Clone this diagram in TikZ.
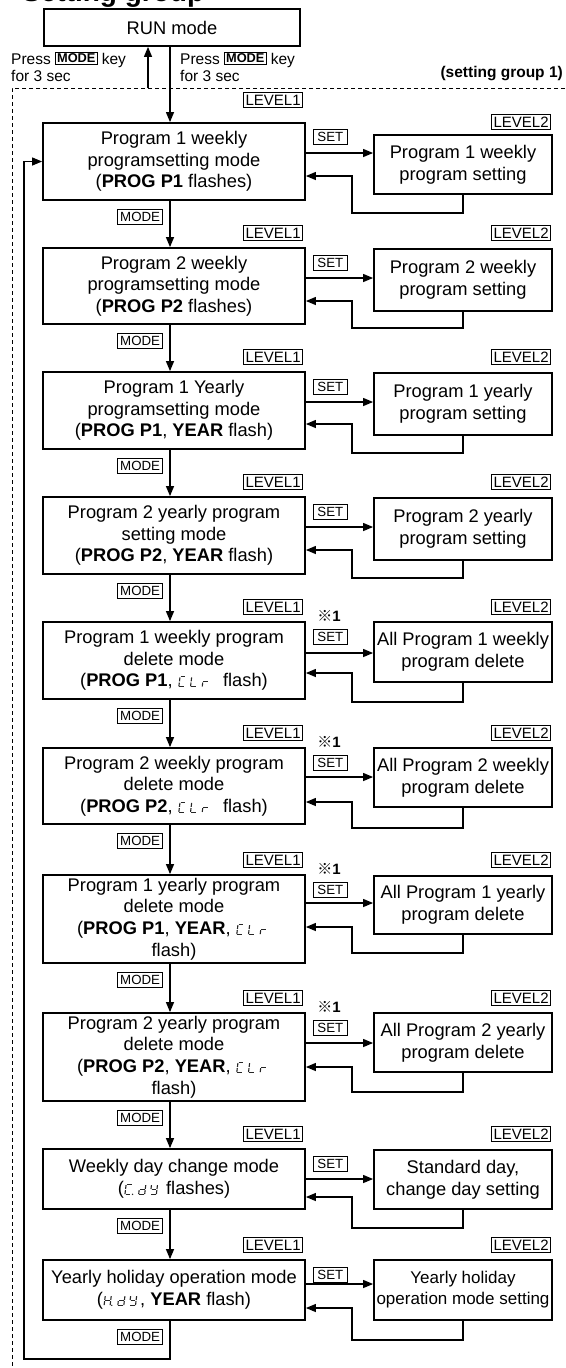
\documentclass[tikz,border=0pt]{standalone}
\usepackage{fontspec}
\setmainfont{Liberation Sans}
\newfontfamily\cjk{Noto Sans CJK JP}
\usetikzlibrary{arrows.meta,calc}

% seven-segment glyph pieces
\newcommand{\sgA}{\draw (1.6,10)--(6.4,10);}
\newcommand{\sgB}{\draw (7,9.5)--(7,5.6);}
\newcommand{\sgC}{\draw (7,4.4)--(7,0.5);}
\newcommand{\sgD}{\draw (1.6,0)--(6.4,0);}
\newcommand{\sgE}{\draw (1,0.5)--(1,4.4);}
\newcommand{\sgF}{\draw (1,5.6)--(1,9.5);}
\newcommand{\sgG}{\draw (1.6,5)--(6.4,5);}
\newcommand{\sgP}{\fill (8.6,0.3) circle (0.8);}
\newcommand{\sgdig}[1]{\tikz[baseline=0pt,x=1pt,y=1pt,line width=1.1pt,line cap=butt,xslant=0.12,black!85]{\path (0,0) rectangle (10.5,10); #1}}
\newcommand{\sgdigp}[1]{\tikz[baseline=0pt,x=1pt,y=1pt,line width=1.1pt,line cap=butt,xslant=0.12,black!85]{\path (0,0) rectangle (12.5,10); #1}}
\newcommand{\CLr}{\sgdig{\sgA\sgD\sgE\sgF}\sgdig{\sgD\sgE\sgF}\sgdig{\sgE\sgG}}
\newcommand{\CdY}{\sgdigp{\sgA\sgD\sgE\sgF\sgP}\sgdig{\sgB\sgC\sgD\sgE\sgG}\sgdig{\sgB\sgC\sgD\sgF\sgG}}
\newcommand{\HdY}{\sgdigp{\sgB\sgC\sgE\sgF\sgG\sgP}\sgdig{\sgB\sgC\sgD\sgE\sgG}\sgdig{\sgB\sgC\sgD\sgF\sgG}}
\newcommand{\keyb}[1]{\raisebox{1.5pt}{\setlength{\fboxsep}{1.2pt}\setlength{\fboxrule}{0.8pt}\fbox{\fontsize{12.8}{13}\selectfont\bfseries #1}}}

\tikzset{
 mainbox/.style={draw, line width=1.8pt, minimum width=262pt, inner sep=0pt, align=center, font=\fontsize{18.3}{21.7}\selectfont},
 sidebox/.style={draw, line width=1.8pt, minimum width=178pt, inner sep=0pt, align=center, font=\fontsize{18.3}{21.7}\selectfont},
 lvl/.style={draw, line width=0.8pt, inner xsep=2pt, inner ysep=2.2pt, font=\fontsize{15}{15}\selectfont},
 modelab/.style={draw, line width=0.8pt, inner xsep=2.5pt, inner ysep=2.6pt, font=\fontsize{13.3}{13.3}\selectfont},
 setlab/.style={draw, line width=0.8pt, minimum width=34pt, inner xsep=1pt, inner ysep=3pt, font=\fontsize{13.3}{13.3}\selectfont},
 notelab/.style={font=\fontsize{15}{15}\selectfont},
 txt/.style={font=\fontsize{15.5}{17}\selectfont},
 conn/.style={line width=1.2pt},
 arr/.style={conn, -{Triangle[length=10pt,width=8pt]}},
 bound/.style={line width=1pt, dash pattern=on 4pt off 3pt},
}

\begin{document}
\begin{tikzpicture}[x=1pt,y=-1pt]
\useasboundingbox (0,0) rectangle (565,1368);

% clipped heading at the very top
\begin{scope}
\clip (0,0) rectangle (565,1368);
\node[anchor=base west, inner sep=0pt, font=\bfseries\fontsize{28}{28}\selectfont] (head) at (22,1) {Setting group};
\end{scope}

% run mode and entry texts
\node[draw, line width=1.8pt, minimum width=256pt, minimum height=37pt, inner sep=0pt, font=\fontsize{18.3}{21.7}\selectfont] (run) at (172,27.5) {RUN mode};
\node[txt, anchor=base west, inner sep=0pt] (pl1) at (11,64) {Press \keyb{MODE} key};
\node[txt, anchor=base west, inner sep=0pt] (pl2) at (11,81) {for 3 sec};
\node[txt, anchor=base west, inner sep=0pt] (pr1) at (180,64) {Press \keyb{MODE} key};
\node[txt, anchor=base west, inner sep=0pt] (pr2) at (180,81) {for 3 sec};
\node[anchor=base east, inner sep=0pt, font=\bfseries\fontsize{15.5}{16}\selectfont] (sg) at (563,77) {(setting group 1)};

% boundary of setting group 1
\draw[bound] (565,88) -- (12,88) -- (12,1368);

% main column boxes
\node[mainbox, minimum height=77pt] (m1) at (174,161.5) {Program 1 weekly\\programsetting mode\\(\textbf{PROG P1} flashes)};
\node[mainbox, minimum height=76pt] (m2) at (174,286) {Program 2 weekly\\programsetting mode\\(\textbf{PROG P2} flashes)};
\node[mainbox, minimum height=77pt] (m3) at (174,410.5) {Program 1 Yearly\\programsetting mode\\(\textbf{PROG P1}, \textbf{YEAR} flash)};
\node[mainbox, minimum height=77pt] (m4) at (174,535.5) {Program 2 yearly program\\setting mode\\(\textbf{PROG P2}, \textbf{YEAR} flash)};
\node[mainbox, minimum height=77pt] (m5) at (174,660.5) {Program 1 weekly program\\delete mode\\(\textbf{PROG P1}, \CLr\ \ flash)};
\node[mainbox, minimum height=76pt] (m6) at (174,786) {Program 2 weekly program\\delete mode\\(\textbf{PROG P2}, \CLr\ \ flash)};
\node[mainbox, minimum height=88pt] (m7) at (174,919) {Program 1 yearly program\\delete mode\\(\textbf{PROG P1}, \textbf{YEAR}, \CLr\\flash)};
\node[mainbox, minimum height=88pt] (m8) at (174,1057) {Program 2 yearly program\\delete mode\\(\textbf{PROG P2}, \textbf{YEAR}, \CLr\\flash)};
\node[mainbox, minimum height=60pt] (m9) at (174,1179) {Weekly day change mode\\(\CdY\ flashes)};
\node[mainbox, minimum height=60pt] (m10) at (174,1290) {Yearly holiday operation mode\\(\HdY, \textbf{YEAR} flash)};

% side boxes
\node[sidebox, minimum height=59pt] (r1) at (463,164.5) {Program 1 weekly\\program setting};
\node[sidebox, minimum height=62pt] (r2) at (463,280) {Program 2 weekly\\program setting};
\node[sidebox, minimum height=62pt] (r3) at (463,404) {Program 1 yearly\\program setting};
\node[sidebox, minimum height=62pt] (r4) at (463,529) {Program 2 yearly\\program setting};
\node[sidebox, minimum height=60pt] (r5) at (463,652) {All Program 1 weekly\\program delete};
\node[sidebox, minimum height=59pt] (r6) at (463,777.5) {All Program 2 weekly\\program delete};
\node[sidebox, minimum height=58pt] (r7) at (463,905) {All Program 1 yearly\\program delete};
\node[sidebox, minimum height=59pt] (r8) at (463,1042.5) {All Program 2 yearly\\program delete};
\node[sidebox, minimum height=59pt] (r9) at (463,1179.5) {Standard day,\\change day setting};
\node[sidebox, minimum height=60pt, font=\fontsize{17}{21}\selectfont] (r10) at (463,1290) {Yearly holiday\\operation mode setting};

% level labels
\node[lvl, anchor=south east] (l1a) at (303,108) {LEVEL1};
\node[lvl, anchor=south east] (l1b) at (551,130) {LEVEL2};
\foreach \i/\t in {2/248,3/372,4/497,5/622,6/748,7/875,8/1013,9/1149,10/1260}{
  \node[lvl, anchor=south east] (l\i a) at (303,\t-7) {LEVEL1};
  \node[lvl, anchor=south east] (l\i b) at (551,\t-7) {LEVEL2};
}

% MODE labels
\foreach \i/\b in {1/200,2/324,3/449,4/574,5/699,6/824,7/963,8/1101,9/1209,10/1320}{
  \node[modelab, anchor=north east] (k\i) at (163,\b+9) {MODE};
}

% SET labels
\node[setlab, anchor=north west] (s1l) at (313,129) {SET};
\foreach \i/\t in {2/248,3/372,4/497,5/622,6/748,7/875,8/1013,9/1149,10/1260}{
  \node[setlab, anchor=north west] (s\i l) at (313,\t+7) {SET};
}

% note marks
\foreach \i/\t in {5/622,6/748,7/875,8/1013}{
  \node[notelab] (n\i) at (329,\t-6) {{\cjk ※}\textbf{1}};
}

% connectors: run mode
\coordinate (v) at (170,0);
\coordinate (ua) at (148,88);
\draw[arr] (ua) -- (run.south -| ua);
\draw[arr] (run.south -| v) -- (m1.north -| v);

% vertical flow
\foreach \a/\b in {1/2,2/3,3/4,4/5,5/6,6/7,7/8,8/9,9/10}{
  \draw[arr] (m\a.south -| v) -- (m\b.north -| v);
}

% loop back
\coordinate (lp) at (24,1359);
\draw[arr] (m10.south -| v) |- (lp) |- (m1.west);

% set / return connectors
\foreach \i/\s/\r/\b in {1/153/176/213,2/278/301/328,3/402/424/453,4/527/550/578,5/653/673/702,6/777/802/828,7/903/927/953,8/1043/1067/1092,9/1179/1197/1228,10/1284/1308/1340}{
  \coordinate (sy\i) at (0,\s);
  \coordinate (ry\i) at (0,\r);
  \coordinate (rb\i) at (352,\b);
  \draw[arr] (m\i.east |- sy\i) -- (r\i.west |- sy\i);
  \draw[arr] (r\i.south) |- (rb\i) |- (m\i.east |- ry\i);
}
\end{tikzpicture}
\end{document}
